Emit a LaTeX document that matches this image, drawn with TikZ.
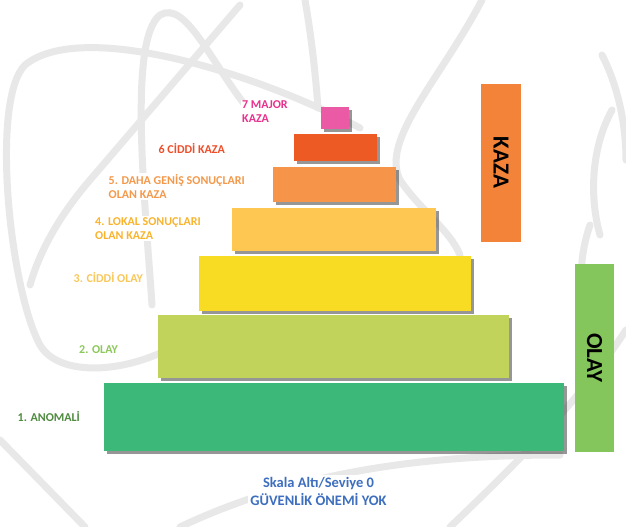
\documentclass[tikz,border=0pt]{standalone}
\usepackage{fontspec}
\setmainfont{Carlito}
\usetikzlibrary{shadows}
\definecolor{cA}{HTML}{3CB878}
\definecolor{cB}{HTML}{C1D35B}
\definecolor{cC}{HTML}{F8DB23}
\definecolor{cD}{HTML}{FDC752}
\definecolor{cE}{HTML}{F6944A}
\definecolor{cF}{HTML}{EE5A24}
\definecolor{cG}{HTML}{EB5BA5}
\definecolor{cKaza}{HTML}{F4833A}
\definecolor{cOlay}{HTML}{85C65C}
\definecolor{tG}{HTML}{E8318D}
\definecolor{tF}{HTML}{EE4E2A}
\definecolor{tE}{HTML}{F4994B}
\definecolor{tD}{HTML}{F9B42E}
\definecolor{tC}{HTML}{F9C75A}
\definecolor{tB}{HTML}{8CC85A}
\definecolor{tA}{HTML}{4E8B3F}
\definecolor{tBlue}{HTML}{3E6FBF}
\definecolor{wmgray}{HTML}{E8E8E8}
\begin{document}
\begin{tikzpicture}[x=1pt,y=-1pt,
  bar/.style={rectangle, draw=none, inner sep=0pt,
    drop shadow={shadow xshift=2.5pt, shadow yshift=-2.5pt, fill=black!75, opacity=0.55}},
  flatbar/.style={rectangle, draw=none, inner sep=0pt},
  lbl/.style={font=\bfseries\fontsize{12}{14}\selectfont, align=left, anchor=west, inner sep=1.5pt, fill=white},
  sidetxt/.style={font=\bfseries\fontsize{23}{23}\selectfont, rotate=-90, text=black},
  wm/.style={draw=wmgray, line width=7pt, line cap=round}]
\useasboundingbox (0,0) rectangle (626,527);
\fill[white] (0,0) rectangle (626,527);
% watermark (atom and wreath)
\draw[wm] (360,128) .. controls (250,70) and (80,20) .. (25,65)
          .. controls (-10,100) and (10,290) .. (40,345)
          .. controls (60,380) and (140,375) .. (200,330);
\draw[wm] (152,305) .. controls (145,200) and (128,40) .. (160,15)
          .. controls (185,0) and (210,60) .. (245,105);
\draw[wm] (240,5) -- (90,180) .. controls (60,215) and (40,250) .. (30,285);
\draw[wm] (305,0) .. controls (312,40) and (316,80) .. (318,108);
\draw[wm] (482,0) .. controls (440,80) and (380,140) .. (400,180)
          .. controls (420,210) and (450,230) .. (460,255);
\draw[wm] (602,55) .. controls (620,90) and (626,130) .. (626,160);
\draw[wm] (612,110) .. controls (590,150) and (590,200) .. (600,235);
\draw[wm] (590,225) .. controls (578,260) and (580,290) .. (588,310);
\draw[wm] (626,330) .. controls (580,400) and (520,460) .. (450,527);
\draw[wm] (0,440) -- (85,527);
\draw[wm] (180,527) .. controls (300,470) and (430,455) .. (560,455);
% pyramid bars
\node[bar, fill=cA, minimum width=460pt, minimum height=68pt] (b1) at (334,417) {};
\node[bar, fill=cB, minimum width=351pt, minimum height=63pt] (b2) at (333.5,346.5) {};
\node[bar, fill=cC, minimum width=272pt, minimum height=55pt] (b3) at (335,283.5) {};
\node[bar, fill=cD, minimum width=204pt, minimum height=43pt] (b4) at (334,229.5) {};
\node[bar, fill=cE, minimum width=123pt, minimum height=35pt] (b5) at (334.5,184.5) {};
\node[bar, fill=cF, minimum width=83pt, minimum height=27pt] (b6) at (335.5,147.5) {};
\node[bar, fill=cG, minimum width=28pt, minimum height=22pt] (b7) at (335,118) {};
% side bars
\node[flatbar, fill=cKaza, minimum width=40pt, minimum height=158pt] (kaza) at (501,162.5) {};
\node[sidetxt] (kazat) at (kaza.center) {KAZA};
\node[flatbar, fill=cOlay, minimum width=39pt, minimum height=188pt] (olay) at (594.5,358) {};
\node[sidetxt] (olayt) at (olay.center) {OLAY};
% labels
\node[lbl, text=tG] (l7) at (240.5,112) {7 MAJOR\\KAZA};
\node[lbl, text=tF] (l6) at (157,148.3) {6 CİDDİ KAZA};
\node[lbl, text=tE] (l5) at (107,186.3) {5. DAHA GENİŞ SONUÇLARI\\OLAN KAZA};
\node[lbl, text=tD] (l4) at (93.5,228.7) {4. LOKAL SONUÇLARI\\OLAN KAZA};
\node[lbl, text=tC] (l3) at (72,277.3) {3. CİDDİ OLAY};
\node[lbl, text=tB] (l2) at (77.5,350) {2. OLAY};
\node[lbl, text=tA] (l1) at (16,416.7) {1. ANOMALİ};
\node[font=\bfseries\fontsize{14.5}{18}\selectfont, align=center, text=tBlue, fill=white, inner sep=2pt] (bottom) at (318.5,491) {Skala Altı/Seviye 0\\GÜVENLİK ÖNEMİ YOK};
\end{tikzpicture}
\end{document}
